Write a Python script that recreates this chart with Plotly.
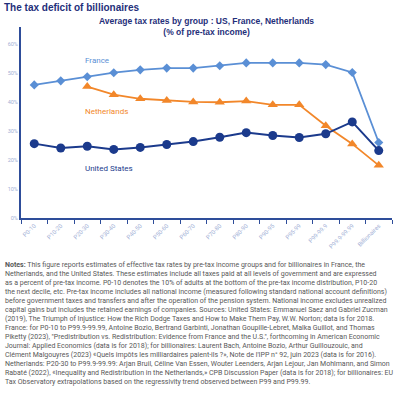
import plotly.graph_objects as go

categories = ["P0-10", "P10-20", "P20-30", "P30-40", "P40-50", "P50-60", "P60-70",
              "P70-80", "P80-90", "P90-95", "P95-99", "P99-99.9", "P99.9-99.99", "Billionaires"]
france = [46.0, 47.4, 48.8, 50.2, 51.2, 51.8, 51.8, 52.6, 53.6, 53.6, 53.6, 53.0, 50.3, 26.1]
netherlands = [None, None, 45.4, 42.6, 41.2, 40.6, 40.1, 40.0, 40.4, 39.1, 39.1, 31.9, 25.6, 18.2]
united_states = [25.7, 24.2, 24.8, 23.7, 24.4, 25.4, 26.4, 27.9, 29.5, 28.5, 27.8, 29.1, 33.2, 23.3]
y_ticks = [0, 10, 20, 30, 40, 50, 60]

C_FR = "#5a8fd5"
C_NL = "#f2872a"
C_US = "#1b3a8c"
NAVY = "#1f2f7a"

notes_lines = [
    "<b>Notes:</b> This figure reports estimates of effective tax rates by pre-tax income groups and for billionaires in France, the",
    "Netherlands, and the United States. These estimates include all taxes paid at all levels of government and are expressed",
    "as a percent of pre-tax income. P0-10 denotes the 10% of adults at the bottom of the pre-tax income distribution, P10-20",
    "the next decile, etc. Pre-tax income includes all national income (measured following standard national account definitions)",
    "before government taxes and transfers and after the operation of the pension system. National income excludes unrealized",
    "capital gains but includes the retained earnings of companies. Sources: United States: Emmanuel Saez and Gabriel Zucman",
    "(2019), The Triumph of Injustice: How the Rich Dodge Taxes and How to Make Them Pay, W.W. Norton; data is for 2018.",
    "France: for P0-10 to P99.9-99.99, Antoine Bozio, Bertrand Garbinti, Jonathan Goupille-Lebret, Malka Guillot, and Thomas",
    "Piketty (2023), \"Predistribution vs. Redistribution: Evidence from France and the U.S.\", forthcoming in American Economic",
    "Journal: Applied Economics (data is for 2018); for billionaires: Laurent Bach, Antoine Bozio, Arthur Guillouzouic, and",
    "Clément Malgouyres (2023) «Quels impôts les milliardaires paient-ils ?», Note de l'IPP n° 92, juin 2023 (data is for 2016).",
    "Netherlands: P20-30 to P99.9-99.99: Arjan Bruil, Céline Van Essen, Wouter Leenders, Arjan Lejour, Jan Mohlmann, and Simon",
    "Rabaté (2022), «Inequality and Redistribution in the Netherlands,» CPB Discussion Paper (data is for 2018); for billionaires: EU",
    "Tax Observatory extrapolations based on the regressivity trend observed between P99 and P99.99.",
]

W, H = 399, 394
ML, MR, MT, MB = 21, 7, 27, 176
PW, PH = W - ML - MR, H - MT - MB


def px(xp):
    return (xp - ML) / PW


def py(yp):
    return (H - MB - yp) / PH


fig = go.Figure()
fig.add_trace(go.Scatter(x=categories, y=france, mode="lines+markers", name="France",
                         line=dict(color=C_FR, width=1.8),
                         marker=dict(symbol="diamond", size=7, color=C_FR)))
fig.add_trace(go.Scatter(x=categories, y=netherlands, mode="lines+markers", name="Netherlands",
                         line=dict(color=C_NL, width=1.8),
                         marker=dict(symbol="triangle-up", size=9, color=C_NL)))
fig.add_trace(go.Scatter(x=categories, y=united_states, mode="lines+markers", name="United States",
                         line=dict(color=C_US, width=2),
                         marker=dict(symbol="circle", size=9, color=C_US)))

for txt, yv, col in [("France", 54.3, C_FR), ("Netherlands", 36.7, C_NL), ("United States", 17.0, C_US)]:
    fig.add_annotation(x=1.85, y=yv, xref="x", yref="y", text=txt, showarrow=False,
                       xanchor="left", yanchor="middle",
                       font=dict(family="Roboto", size=8, color=col))

fig.add_annotation(x=px(2), y=py(0), xref="paper", yref="paper", xanchor="left", yanchor="top",
                   text="<b>The tax deficit of billionaires</b>", showarrow=False,
                   font=dict(family="Liberation Sans", size=10, color=NAVY))
fig.add_annotation(x=px(206), y=py(14), xref="paper", yref="paper", xanchor="center", yanchor="top",
                   text="<b>Average tax rates by group : US, France, Netherlands</b><br><b>(% of pre-tax income)</b>",
                   showarrow=False, align="center",
                   font=dict(family="Liberation Sans", size=8.5, color=NAVY))
for i, line in enumerate(notes_lines):
    fig.add_annotation(x=px(3), y=py(264.5 + i * 9.05), xref="paper", yref="paper",
                       xanchor="left", yanchor="middle", text=line, showarrow=False, align="left",
                       font=dict(family="Roboto", size=7.0, color="#585858"))

fig.update_layout(
    width=W, height=H,
    margin=dict(l=ML, r=MR, t=MT, b=MB, autoexpand=False),
    paper_bgcolor="white", plot_bgcolor="white",
    showlegend=False,
    xaxis=dict(type="category", range=[-0.5, 13.5], showgrid=False, showline=True, automargin=False,
               linecolor="#2e4d9a", linewidth=2, ticks="outside", tickson="boundaries",
               ticklen=4, tickcolor="#2e4d9a", tickangle=-45,
               tickfont=dict(family="Roboto", size=6, color="#a3b1d6")),
    yaxis=dict(range=[0, 66], showgrid=False, showline=True, linecolor="#2e4d9a", linewidth=2,
               zeroline=False, tickvals=y_ticks, ticktext=[f"{v}%" for v in y_ticks], automargin=False,
               ticks="", tickfont=dict(family="Roboto", size=5.5, color="#a3b1d6")),
)

fig.write_html("out.html", config={"displayModeBar": False},
               post_script="document.body.style.margin='0px';")
